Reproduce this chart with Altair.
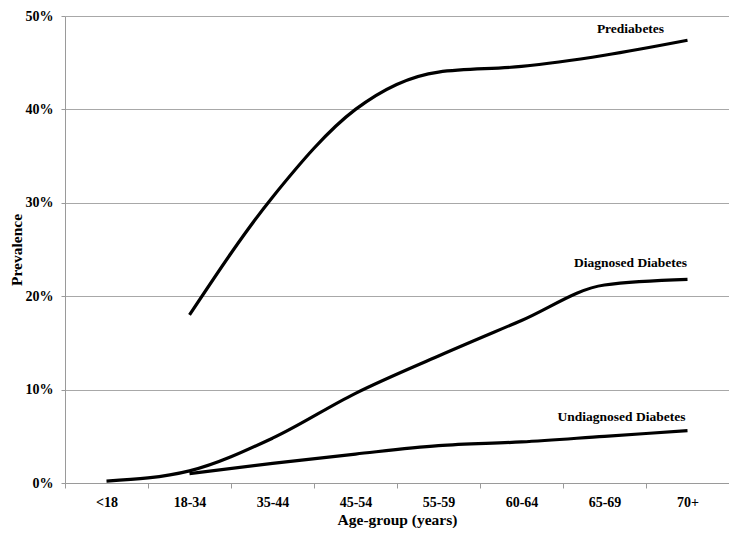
import altair as alt
import pandas as pd

ages = ["<18", "18-34", "35-44", "45-54", "55-59", "60-64", "65-69", "70+"]

prediabetes = [None, 18.0, 30.6, 40.0, 44.0, 44.6, 45.8, 47.4]
diagnosed = [0.2, 1.3, 4.8, 9.6, 13.6, 17.4, 21.2, 21.8]
undiagnosed = [None, 1.0, 2.1, 3.1, 4.0, 4.4, 5.0, 5.6]

series_names = ["Prediabetes", "Diagnosed Diabetes", "Undiagnosed Diabetes"]
label_values = [48.6, 23.6, 7.1]
label_dx = [-57, -57, -66]

rows = []
for name, vals in zip(series_names, [prediabetes, diagnosed, undiagnosed]):
    for a, v in zip(ages, vals):
        if v is not None:
            rows.append({"age": a, "value": v / 100.0, "series": name})
df = pd.DataFrame(rows)

lab = pd.DataFrame({
    "age": ["70+"] * 3,
    "value": [v / 100.0 for v in label_values],
    "series": series_names,
})

FONT = "Liberation Serif"

xenc = alt.X(
    "age:N",
    sort=ages,
    bandPosition=0.5,
    scale=alt.Scale(type="band", domain=ages, paddingInner=0, paddingOuter=0),
    axis=alt.Axis(
        title="Age-group (years)",
        labelAngle=0,
        tickBand="extent",
        tickSize=5,
        labelPadding=7,
        titlePadding=3,
        grid=False,
    ),
)
yenc = alt.Y(
    "value:Q",
    scale=alt.Scale(domain=[0, 0.5], nice=False),
    axis=alt.Axis(
        title="Prevalence",
        format=".0%",
        values=[0, 0.1, 0.2, 0.3, 0.4, 0.5],
        tickSize=4,
        labelPadding=8,
        titlePadding=1,
        grid=True,
    ),
)

lines = alt.Chart(df).mark_line(
    color="black", strokeWidth=3.2, interpolate="monotone"
).encode(x=xenc, y=yenc, detail="series:N")

labels = []
for name, d in zip(series_names, label_dx):
    labels.append(
        alt.Chart(lab[lab["series"] == name]).mark_text(
            font=FONT, fontWeight="bold", fontSize=13.5, color="black",
            align="center", baseline="middle", dx=d
        ).encode(
            x=alt.X("age:N", sort=ages, bandPosition=0.5),
            y=alt.Y("value:Q"),
            text="series:N",
        )
    )

chart = alt.layer(lines, *labels).properties(
    width=664,
    height=467,
    autosize=alt.AutoSizeParams(type="none"),
    padding={"left": 57, "top": 8, "right": 0, "bottom": 45},
).configure_axis(
    labelFont=FONT,
    titleFont=FONT,
    labelFontWeight="bold",
    titleFontWeight="bold",
    labelFontSize=14,
    titleFontSize=15.5,
    labelColor="black",
    titleColor="black",
    domainColor="#9a9a9a",
    tickColor="#9a9a9a",
    gridColor="#a8a8a8",
    gridWidth=1,
).configure_view(stroke=None)

chart.save("out.html", embed_options={"renderer": "svg", "actions": False})
